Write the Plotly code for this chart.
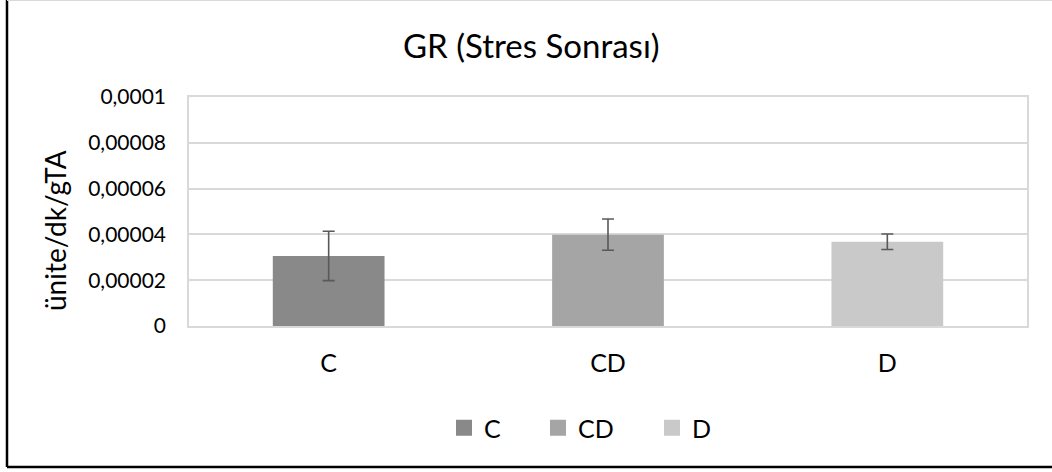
import plotly.graph_objects as go

# =========================
# DATA
# =========================

groups = ["C", "CD", "D"]
means = [0.0000306, 0.0000399, 0.0000368]
errors = [0.0000108, 0.0000068, 0.0000034]
colors = ["#898989", "#a5a5a5", "#c9c9c9"]

y_ticks = [0, 0.00002, 0.00004, 0.00006, 0.00008, 0.0001]
y_tick_labels = ["0", "0,00002", "0,00004", "0,00006", "0,00008", "0,0001"]

title = "GR (Stres Sonrası)"
y_title = "ünite/dk/gTA"

# =========================
# LAYOUT (pixels)
# =========================

W, H = 1052, 472
L, R, T, B = 189, 25, 97, 146
pw, ph = W - L - R, H - T - B


def px_x(x):
    return (x - L) / pw


def px_y(y):
    return (H - B - y) / ph


FONT = "Lato, 'Open Sans', sans-serif"

# left edge of each legend entry (Excel spreads them out more than plotly)
legend_left = [444, 538, 652]
legend_names = ["legend", "legend2", "legend3"]

fig = go.Figure()

for g, m, e, c in zip(groups, means, errors, colors):
    fig.add_trace(go.Bar(
        x=[g], y=[m], name=g, showlegend=False,
        marker=dict(color=c, line=dict(width=0)),
        width=0.4,
        error_y=dict(type="data", array=[e], visible=True,
                     color="#595959", thickness=1.6, width=6),
    ))

# legend proxies: bigger square swatches than plotly's bar icon
for g, c, lg in zip(groups, colors, legend_names):
    fig.add_trace(go.Scatter(
        x=[None], y=[None], name=g, mode="markers", legend=lg,
        marker=dict(symbol="square", size=16, color=c),
    ))

legend_style = dict(orientation="h", yanchor="middle", y=px_y(428),
                    xanchor="left", font=dict(size=25), itemsizing="trace",
                    bgcolor="rgba(0,0,0,0)")

fig.update_layout(
    width=W, height=H,
    margin=dict(l=L, r=R, t=T, b=B),
    paper_bgcolor="white", plot_bgcolor="white",
    barmode="overlay",
    font=dict(family=FONT, color="#000000", size=21),
    legend=dict(x=px_x(legend_left[0]), **legend_style),
    legend2=dict(x=px_x(legend_left[1]), **legend_style),
    legend3=dict(x=px_x(legend_left[2]), **legend_style),
    annotations=[
        dict(text=title, xref="paper", yref="paper",
             x=px_x(531), y=px_y(45), xanchor="center", yanchor="middle",
             showarrow=False, font=dict(size=33)),
        dict(text=y_title, xref="paper", yref="paper",
             x=px_x(55), y=px_y(231), xanchor="center", yanchor="middle",
             textangle=-90, showarrow=False, font=dict(size=28)),
    ],
    shapes=[
        dict(type="line", xref="paper", yref="paper",
             x0=px_x(7), x1=px_x(7), y0=px_y(0), y1=px_y(467),
             line=dict(color="#000000", width=2.5)),
        dict(type="line", xref="paper", yref="paper",
             x0=px_x(7), x1=px_x(1060), y0=px_y(467), y1=px_y(467),
             line=dict(color="#000000", width=2.5)),
        dict(type="line", xref="paper", yref="paper",
             x0=px_x(7), x1=px_x(1060), y0=px_y(0.5), y1=px_y(0.5),
             line=dict(color="#d9d9d9", width=1)),
    ],
)

fig.update_xaxes(
    type="category", categoryorder="array", categoryarray=groups,
    showline=True, linecolor="#d9d9d9", linewidth=1.5, mirror=True,
    showgrid=False, ticks="", ticklabelstandoff=14,
    tickfont=dict(size=25),
)

fig.update_yaxes(
    range=[0, 0.0001],
    tickvals=y_ticks, ticktext=y_tick_labels,
    showline=True, linecolor="#d9d9d9", linewidth=1.5, mirror=True,
    showgrid=True, gridcolor="#d9d9d9", gridwidth=1.5,
    zeroline=False, ticks="", ticklabelstandoff=17,
    tickfont=dict(size=21),
)

# page body has an 8px default margin; drop it so the chart sits at 0,0
fig.write_html("out.html", config={"displayModeBar": False},
               post_script="document.body.style.margin = '0';"
                           "document.body.style.overflow = 'hidden';")
